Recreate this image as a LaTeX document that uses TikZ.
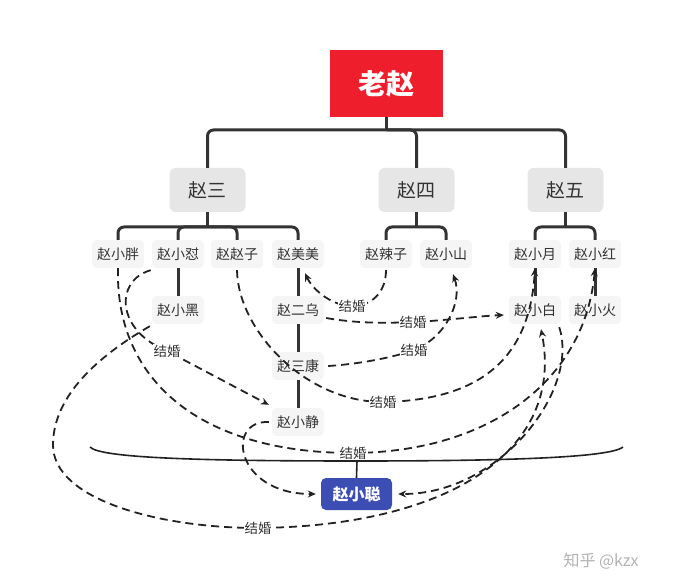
\documentclass[tikz,border=0pt]{standalone}
\usepackage{fontspec}
\setmainfont{Noto Sans CJK SC}
\usetikzlibrary{arrows.meta}
\definecolor{zred}{RGB}{238,30,44}
\definecolor{zblue}{RGB}{60,78,180}
\definecolor{boxgray}{RGB}{230,230,230}
\definecolor{leafgray}{RGB}{245,245,245}
\definecolor{txt}{RGB}{51,51,51}
\definecolor{lin}{RGB}{51,51,51}
\definecolor{rl}{RGB}{34,34,34}
\begin{document}
\begin{tikzpicture}[x=1pt,y=-1pt,
  rootbox/.style={fill=zred, minimum width=113pt, minimum height=67pt, text=white, font=\fontsize{28pt}{32pt}\selectfont\bfseries, inner sep=0pt},
  midbox/.style={fill=boxgray, rounded corners=6pt, minimum width=76pt, minimum height=44pt, text=txt, font=\fontsize{19pt}{22pt}\selectfont, inner sep=0pt},
  leafbox/.style={fill=leafgray, rounded corners=4pt, minimum width=52pt, minimum height=28pt, text=txt, font=\fontsize{14pt}{16pt}\selectfont, inner sep=0pt},
  keybox/.style={fill=zblue, rounded corners=5pt, minimum width=71pt, minimum height=32pt, text=white, font=\fontsize{16pt}{19pt}\selectfont\bfseries, inner sep=0pt},
  tree/.style={line width=3pt, draw=lin, rounded corners=6pt},
  rel/.style={line width=1.8pt, draw=rl, dash pattern=on 8pt off 5pt, -{Stealth[length=8pt,width=7pt]}},
  summ/.style={line width=1.6pt, draw=rl},
  lbl/.style={fill=white, text=txt, font=\fontsize{13.5pt}{15pt}\selectfont, inner sep=1pt},
  wm/.style={text=black!30, font=\fontsize{16pt}{19pt}\selectfont, inner sep=0pt}
]
\useasboundingbox (0,0) rectangle (673,588);

% nodes
\node[rootbox] (root) at (386.5,83.5) {老赵};
\node[midbox] (z3) at (207.5,190) {赵三};
\node[midbox] (z4) at (416.5,190) {赵四};
\node[midbox] (z5) at (565.5,190) {赵五};

\node[leafbox] (xp) at (118,254) {赵小胖};
\node[leafbox] (xd) at (178,254) {赵小怼};
\node[leafbox] (zz) at (237,254) {赵赵子};
\node[leafbox] (mm) at (298,254) {赵美美};
\node[leafbox] (lz) at (386,254) {赵辣子};
\node[leafbox] (xs) at (446,254) {赵小山};
\node[leafbox] (xy) at (535,254) {赵小月};
\node[leafbox] (xh) at (595,254) {赵小红};

\node[leafbox] (xhei) at (178,310) {赵小黑};
\node[leafbox] (er) at (298,310) {赵二乌};
\node[leafbox] (xb) at (535,310) {赵小白};
\node[leafbox] (xhuo) at (595,310) {赵小火};
\node[leafbox] (sk) at (298,366) {赵三康};
\node[leafbox] (xj) at (298,422) {赵小静};

\node[keybox] (xc) at (356.5,494) {赵小聪};

\node[wm] (wmark) at (601,561) {知乎 @kzx};

% tree connectors
\coordinate (b0) at (386.5,130);
\draw[tree] (root.south) -- (b0);
\draw[tree] (z3.north) |- (b0) -| (z5.north);
\draw[tree] (b0) -| (z4.north);

\coordinate (b1) at (207.5,227);
\draw[tree] (z3.south) -- (b1);
\draw[tree] (xp.north) |- (b1) -| (mm.north);
\draw[tree] (xd.north) |- (b1);
\draw[tree] (zz.north) |- (b1);

\coordinate (b2) at (416.5,227);
\draw[tree] (z4.south) -- (b2);
\draw[tree] (lz.north) |- (b2) -| (xs.north);

\coordinate (b3) at (565.5,227);
\draw[tree] (z5.south) -- (b3);
\draw[tree] (xy.north) |- (b3) -| (xh.north);

\draw[tree] (xd.south) -- (xhei.north);
\draw[tree] (mm.south) -- (er.north);
\draw[tree] (er.south) -- (sk.north);
\draw[tree] (sk.south) -- (xj.north);
\draw[tree] (xy.south) -- (xb.north);
\draw[tree] (xh.south) -- (xhuo.north);

% summary
\coordinate (sL) at (90,447);
\coordinate (sR) at (623,447);
\coordinate (sm) at (357,461);
\draw[summ] (sL) .. controls (100,458) and (200,461) .. (sm) .. controls (500,461) and (610,458) .. (sR);
\draw[summ] (sm) -- (xc.north);

% relationship label points
\coordinate (c1) at (352,306);
\coordinate (c2) at (413,322);
\coordinate (c3) at (414,350);
\coordinate (c4) at (383,402);
\coordinate (c5) at (167,351);
\coordinate (c6) at (353,453);
\coordinate (c8) at (258,528);
\coordinate (c8a) at (53,445);

% relationships
\draw[rel] ([yshift=-2pt]lz.south) .. controls (386,292) and (372,306) .. (c1)
  .. controls (332,306) and (313,290) .. ([xshift=7pt,yshift=-5pt]mm.south);
\draw[rel] ([xshift=2pt,yshift=-8pt]er.east) .. controls (360,324) and (390,323) .. (c2)
  .. controls (440,321) and (480,316) .. ([xshift=-5pt,yshift=-5pt]xb.west);
\draw[rel] ([xshift=4pt]sk.east) .. controls (360,364) and (395,357) .. (c3)
  .. controls (445,338) and (463,302) .. ([xshift=7pt,yshift=-6pt]xs.south);
\draw[rel] ([yshift=-2pt]zz.south) .. controls (238,330) and (305,402) .. (c4)
  .. controls (490,400) and (530,350) .. (xy.south);
\draw[rel] ([xshift=-1pt,yshift=-2pt]xd.south west) .. controls (115,280) and (115,330) .. (c5)
  -- ([xshift=-3pt,yshift=3pt]xj.north west);
\draw[rel] (xp.south) .. controls (115,380) and (200,453) .. (c6)
  .. controls (490,452) and (585,380) .. (xh.south);
\draw[rel] ([xshift=-3pt]xj.west) .. controls (225,420) and (235,494) .. ([xshift=-5pt]xc.west);
\draw[rel] ([xshift=-2pt,yshift=-2pt]xhei.south west) .. controls (100,355) and (53,395) .. (c8a)
  .. controls (53,500) and (160,528) .. (c8)
  .. controls (450,526) and (565,450) .. ([xshift=6pt,yshift=-5pt]xb.south);
\draw[rel] ([xshift=-2pt,yshift=-3pt]xb.south east) .. controls (580,390) and (500,494) .. ([xshift=6pt]xc.east);

% labels
\node[lbl] (l1) at (c1) {结婚};
\node[lbl] (l2) at (c2) {结婚};
\node[lbl] (l3) at (c3) {结婚};
\node[lbl] (l4) at (c4) {结婚};
\node[lbl] (l5) at (c5) {结婚};
\node[lbl] (l6) at (c6) {结婚};
\node[lbl] (l8) at (c8) {结婚};
\end{tikzpicture}
\end{document}
